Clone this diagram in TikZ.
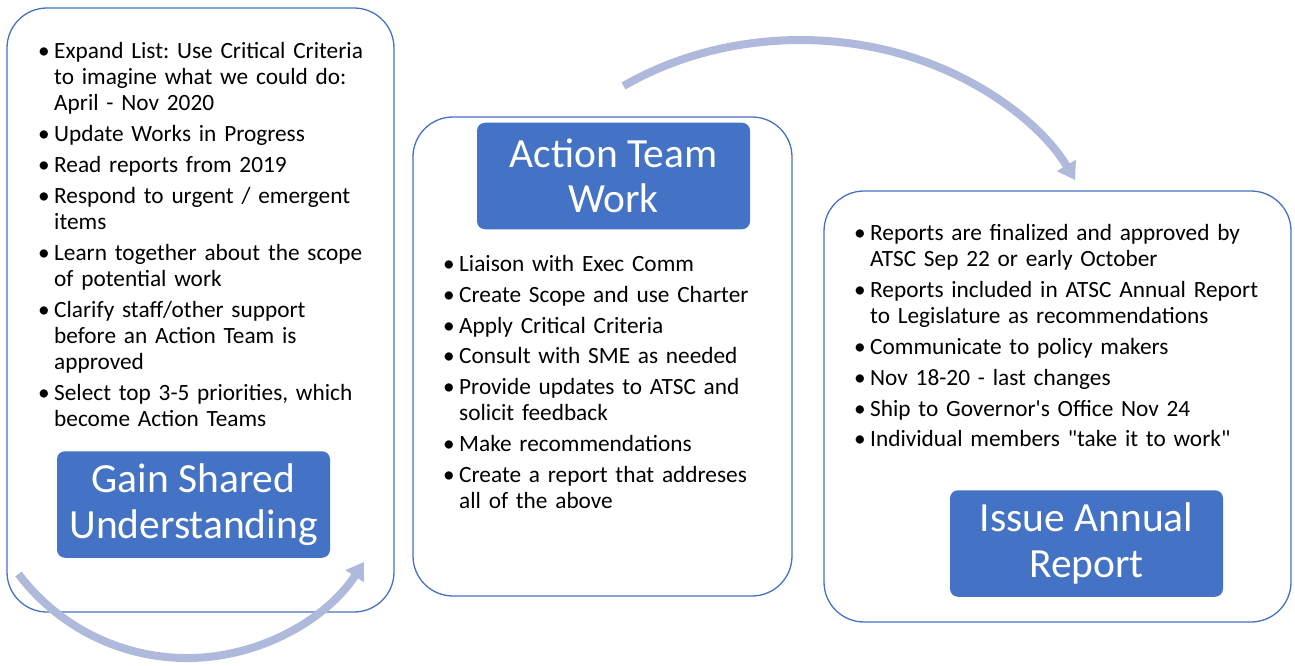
\documentclass[tikz,border=0pt]{standalone}
\usepackage{fontspec}
\setmainfont{Carlito}
\newfontfamily\plaincarl{Carlito}
\usetikzlibrary{arrows.meta}
\definecolor{accent}{RGB}{68,114,196}
\definecolor{arrowc}{RGB}{175,185,219}
\newcommand{\bitem}[1]{\hangindent=16pt\hangafter=1\noindent\makebox[16pt][l]{\textbullet}#1\par}
\newcommand{\nl}{\hfil\break}
\tikzset{
  panel/.style={draw=accent, line width=1.3pt, rounded corners=40pt},
  titlebox/.style={fill=accent, rounded corners=8pt, text=white, minimum width=273pt, minimum height=106.5pt, align=center, inner sep=0pt, font=\plaincarl\fontsize{41.5}{45.5}\selectfont},
  bullets/.style={anchor=base west, inner sep=0pt, text width=430pt, align=left, font=\plaincarl\frenchspacing\fontsize{23.3}{26.2}\selectfont},
  bigarrow/.style={draw=arrowc, line width=8pt, -{Triangle[width=21pt,length=17pt]}}
}
\begin{document}
\begin{tikzpicture}[x=1pt,y=1pt]
\useasboundingbox (0,0) rectangle (1295,-666);
% panels
\draw[panel] (7,-8) rectangle (394,-612);
\draw[panel] (413,-117) rectangle (792,-596);
\draw[panel] (824,-191) rectangle (1291,-622);
% titles
\node[titlebox] (t1) at (193.5,-504.5) {Gain Shared\\Understanding};
\node[titlebox] (t2) at (613.5,-176) {Action Team\\Work};
\node[titlebox] (t3) at (1086.5,-543.5) {Issue Annual\\Report};
% bullet lists
\node[bullets] (l1) at (38,-58.5) {\setlength\parskip{4.6pt}%
\bitem{Expand List: Use Critical Criteria\nl to imagine what we could do:\nl April - Nov 2020}
\bitem{Update Works in Progress}
\bitem{Read reports from 2019}
\bitem{Respond to urgent / emergent\nl items}
\bitem{Learn together about the scope\nl of potential work}
\bitem{Clarify staff/other support\nl before an Action Team is\nl approved}
\bitem{Select top 3-5 priorities, which\nl become Action Teams}};
\node[bullets] (l2) at (443,-271.5) {\setlength\parskip{4.6pt}%
\bitem{Liaison with Exec Comm}
\bitem{Create Scope and use Charter}
\bitem{Apply Critical Criteria}
\bitem{Consult with SME as needed}
\bitem{Provide updates to ATSC and\nl solicit feedback}
\bitem{Make recommendations}
\bitem{Create a report that addreses\nl all of the above}};
\node[bullets] (l3) at (854,-240.5) {\setlength\parskip{4.6pt}%
\bitem{Reports are finalized and approved by\nl ATSC Sep 22 or early October}
\bitem{Reports included in ATSC Annual Report\nl to Legislature as recommendations}
\bitem{Communicate to policy makers}
\bitem{Nov 18-20 - last changes}
\bitem{Ship to Governor's Office Nov 24}
\bitem{Individual members "take it to work"}};
% curved arrows
\coordinate (a1s) at (18.5,-574);
\coordinate (a2s) at (623.5,-86);
\draw[bigarrow] (a1s) arc[start angle=217, end angle=327, radius=211];
\draw[bigarrow] (a2s) arc[start angle=125.3, end angle=26.1, x radius=306, y radius=250];
\end{tikzpicture}
\end{document}
